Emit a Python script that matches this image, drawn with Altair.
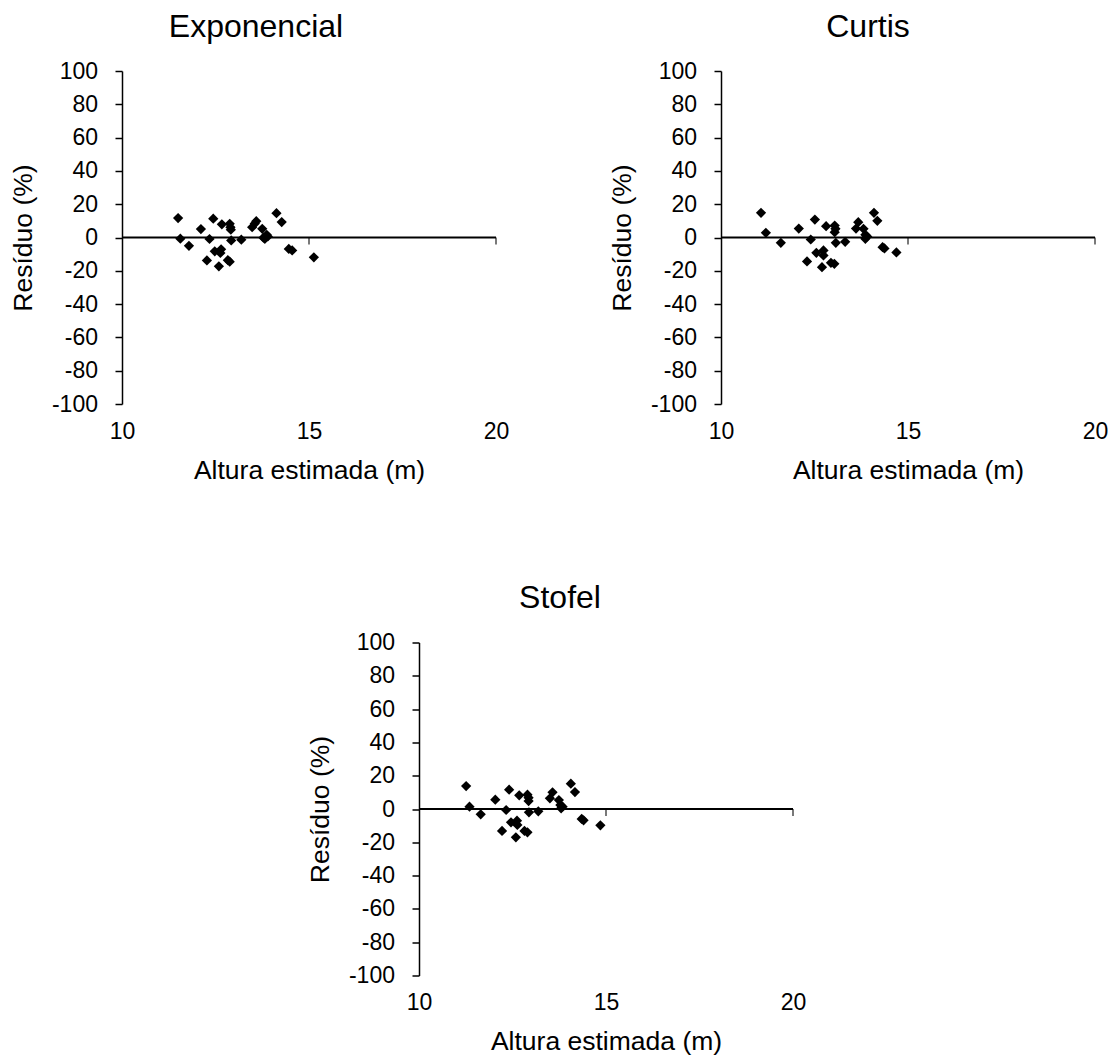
import altair as alt
import pandas as pd

FONT = "Liberation Sans"

# Exponencial
exp_x = [11.50, 11.56, 11.79, 12.11, 12.34, 12.27, 12.44, 12.48, 12.59, 12.63, 12.65, 12.67,
         12.83, 12.88, 12.88, 12.90, 12.91, 12.92, 13.19, 13.48, 13.55, 13.59, 13.75, 13.78,
         13.82, 13.87, 13.90, 14.13, 14.27, 14.46, 14.55, 15.13]
exp_y = [11.7, -0.7, -5.0, 5.1, -0.9, -13.8, 11.3, -8.3, -17.3, -9.3, -7.1, 7.9,
         -13.6, -14.5, 8.2, 6.1, 4.7, -1.8, -1.3, 6.2, 8.4, 9.8, 5.2, -0.1,
         -0.8, 1.6, 0.6, 14.6, 9.3, -6.9, -7.8, -11.9]

# Curtis
cur_x = [11.07, 11.20, 11.60, 12.08, 12.40, 12.51, 12.30, 12.55, 12.74, 12.74, 12.70, 12.81,
         12.94, 13.03, 13.04, 13.06, 13.04, 13.07, 13.32, 13.61, 13.67, 13.81, 13.86, 13.86,
         13.91, 14.09, 14.18, 14.32, 14.37, 14.69]
cur_y = [14.8, 2.8, -3.2, 5.4, -1.2, 10.8, -14.4, -9.2, -7.8, -10.8, -17.8, 6.8,
         -15.2, -15.8, 7.2, 5.2, 3.2, -3.2, -2.6, 5.4, 9.2, 5.2, 1.6, -0.8,
         0.6, 14.8, 10.0, -5.8, -6.6, -9.0]

# Stofel
sto_x = [11.26, 11.35, 11.65, 12.04, 12.33, 12.22, 12.41, 12.46, 12.62, 12.63, 12.59, 12.68,
         12.82, 12.90, 12.90, 12.93, 12.93, 12.94, 13.19, 13.50, 13.57, 13.74, 13.78, 13.80,
         13.84, 14.06, 14.17, 14.35, 14.40, 14.85]
sto_y = [13.8, 1.4, -3.2, 5.6, -0.6, -13.2, 11.6, -8.0, -7.0, -9.6, -17.0, 8.2,
         -13.2, -14.0, 8.6, 6.8, 4.8, -2.0, -1.4, 6.4, 10.0, 5.4, 2.4, 0.4,
         1.4, 15.2, 10.2, -6.0, -6.8, -9.8]

x_ticks = [10, 15, 20]
y_ticks = list(range(-100, 101, 20))
zero_line = pd.DataFrame({"x": [10], "x2": [20], "y": [0]})
x_marks = pd.DataFrame({"x": [15, 20], "y": [0, 0]})

W, H = 374, 333


def panel(title, xs, ys, dx):
    df = pd.DataFrame({"x": xs, "y": ys})
    xenc = alt.X("x:Q", scale=alt.Scale(domain=[10, 20], nice=False, zero=False),
                 axis=alt.Axis(values=x_ticks, title="Altura estimada (m)", domain=False,
                               ticks=False, grid=False, labelPadding=16, titlePadding=14,
                               labelFlush=False, labelFontSize=23, titleFontSize=26.5,
                               labelFont=FONT, titleFont=FONT, titleFontWeight="normal",
                               labelColor="black", titleColor="black",
                               labelExpr="'' + datum.value"))
    yenc = alt.Y("y:Q", scale=alt.Scale(domain=[-100, 100], nice=False),
                 axis=alt.Axis(values=y_ticks, title="Resíduo (%)", grid=False, tickSize=7,
                               tickColor="black", domainColor="black", domainWidth=1.5,
                               tickWidth=1.5, labelPadding=17.5, titlePadding=13.5,
                               labelFlush=False, labelFontSize=23, titleFontSize=26.5,
                               labelFont=FONT, titleFont=FONT, titleFontWeight="normal",
                               labelColor="black", titleColor="black",
                               labelExpr="'' + datum.value"))
    zero = alt.Chart(zero_line).mark_rule(color="black", strokeWidth=1.8).encode(
        x=xenc, x2=alt.X2("x2:Q"), y=yenc)
    tks = alt.Chart(x_marks).mark_tick(color="black", size=7, thickness=1.5, yOffset=3.5,
                                       orient="vertical").encode(x=xenc, y=yenc)
    pts = alt.Chart(df).mark_point(shape="diamond", filled=True, color="black", size=105,
                                   opacity=1).encode(x=xenc, y=yenc)
    return alt.layer(zero, tks, pts).properties(
        width=W, height=H,
        title=alt.TitleParams(title, anchor="middle", dx=dx, fontSize=32, font=FONT,
                              fontWeight="normal", color="black", offset=16.5))


p1 = panel("Exponencial", exp_x, exp_y, -53)
p2 = panel("Curtis", cur_x, cur_y, -40)
p3 = panel("Stofel", sto_x, sto_y, -46)

SP_W = 185
spacer = alt.Chart(pd.DataFrame({"a": [0]})).mark_rule(color="white", strokeOpacity=0).encode(
    x=alt.value(0), x2=alt.value(SP_W), y=alt.value(0)
).properties(width=SP_W, height=1)

row1 = alt.hconcat(p1, p2, spacing=100)
row2 = alt.hconcat(spacer, p3, spacing=0)
chart = alt.vconcat(row1, row2, spacing=97.5).properties(
    padding={"left": 2, "top": 2, "right": 0, "bottom": 0},
    background="white"
).configure_view(stroke="transparent", strokeWidth=0)

chart.save("out.html", embed_options={"renderer": "svg", "actions": False})
